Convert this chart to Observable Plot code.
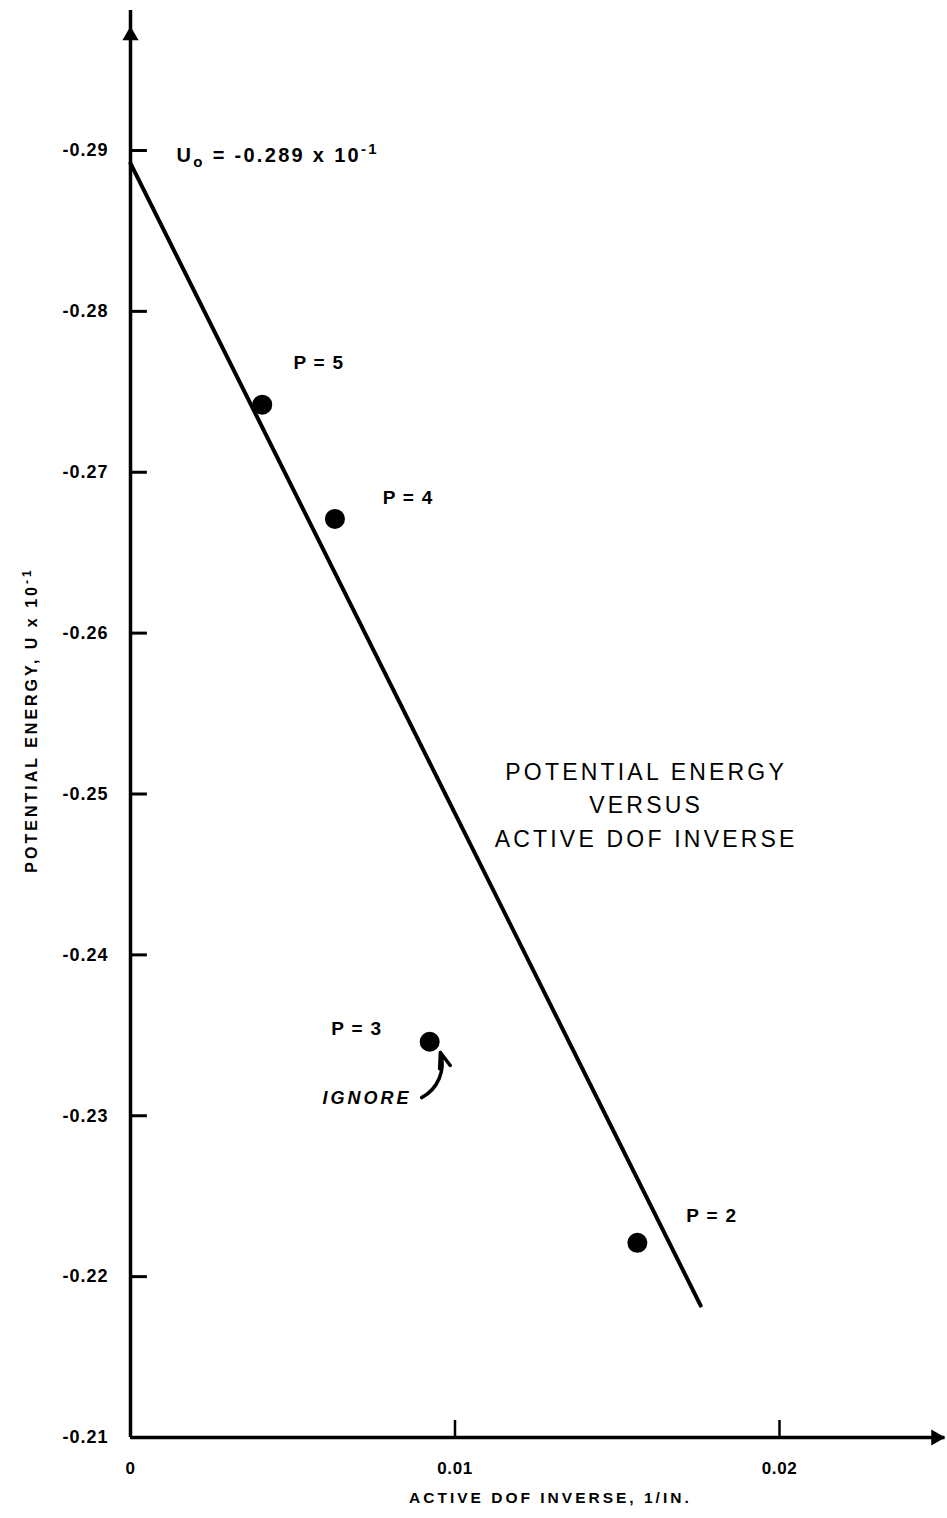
<!DOCTYPE html>
<html><head><meta charset="utf-8">
<script src="https://cdn.jsdelivr.net/npm/d3@7"></script>
<script src="https://cdn.jsdelivr.net/npm/@observablehq/plot@0.6"></script>
<style>body{margin:0;background:#fff} svg{display:block}</style>
</head><body><div id="chart"></div>
<script>
// ---- data ----
const pLabels = ["P = 5", "P = 4", "P = 3", "P = 2"];
const dofInverse = [0.00406, 0.00630, 0.00922, 0.01562];
const energy = [-0.2742, -0.2671, -0.2346, -0.2221];
const labelX = [0.00502, 0.00777, 0.00619, 0.01713];
const labelY = [-0.2768, -0.2684, -0.2354, -0.2238];
const fitX = [0, 0.01757];
const fitY = [-0.2892, -0.2182];
const xTicks = [0, 0.01, 0.02];
const xTickLabels = ["0", "0.01", "0.02"];
const yTicks = [-0.21, -0.22, -0.23, -0.24, -0.25, -0.26, -0.27, -0.28, -0.29];
const yTickLabels = ["-0.21", "-0.22", "-0.23", "-0.24", "-0.25", "-0.26", "-0.27", "-0.28", "-0.29"];
const xAxisEnd = 0.0251, xArrowAt = 0.02482;
const yAxisEnd = -0.2987, yArrowAt = -0.29715;
const u0Text = "Uo = -0.289 x 10-1";
const u0Pos = [0.00142, -0.2897];
const titleText = "POTENTIAL ENERGY\nVERSUS\nACTIVE DOF INVERSE";
const titlePos = [0.01589, -0.24947];
const ignoreText = "IGNORE";
const ignorePos = [0.00592, -0.23107];
const ignoreArrow = {x1: 0.00897, y1: -0.23113, x2: 0.00955, y2: -0.23393};
const xTitle = "ACTIVE DOF INVERSE, 1/IN.";
const xTitlePos = [0.01294, -0.21];
const yTitle = "POTENTIAL ENERGY, U x 10-1";
const yTitlePos = [0, -0.2546];

const points = pLabels.map((p, i) => ({p, x: dofInverse[i], y: energy[i], lx: labelX[i], ly: labelY[i]}));
const fit = fitX.map((x, i) => ({x, y: fitY[i]}));

const font = "Liberation Sans, Arial, Helvetica, sans-serif";
const spacing = []; // letter-spacing per text mark, in order
function T(data, opts, ls) { spacing.push(ls); return Plot.text(data, {fontFamily: font, fill: "black", ...opts}); }

const svg = Plot.plot({
  width: 947, height: 1518,
  marginLeft: 130, marginRight: 168, marginTop: 150, marginBottom: 81,
  x: {domain: [0, 0.02], axis: null},
  y: {domain: [-0.21, -0.29], axis: null},
  style: {background: "white", overflow: "visible"},
  marks: [
    // axes
    Plot.ruleX([0], {y1: -0.21, y2: yAxisEnd, stroke: "black", strokeWidth: 3.5}),
    Plot.ruleY([-0.21], {x1: 0, x2: xAxisEnd, stroke: "black", strokeWidth: 3.5}),
    Plot.dot([0], {x: 0, y: yArrowAt, symbol: "triangle", r: 6, fill: "black", stroke: null}),
    Plot.dot([0], {x: xArrowAt, y: -0.21, symbol: "triangle", r: 6, fill: "black", stroke: null, rotate: 90}),
    Plot.ruleY(yTicks.slice(1), {y: d => d, x1: 0, x2: 0.00052, stroke: "black", strokeWidth: 3}),
    Plot.ruleX(xTicks.slice(1), {x: d => d, y1: -0.21, y2: -0.21106, stroke: "black", strokeWidth: 2.5}),
    T(yTicks, {x: 0, y: d => d, text: (d, i) => yTickLabels[i], textAnchor: "end", dx: -22, fontSize: 18, fontWeight: "bold"}, 1),
    T(xTicks, {x: d => d, y: -0.21, text: (d, i) => xTickLabels[i], dy: 31, fontSize: 17, fontWeight: "bold"}, 0.6),
    T([xTitle], {x: xTitlePos[0], y: xTitlePos[1], text: d => d, dy: 61, fontSize: 15.5, fontWeight: "bold"}, 3),
    T([yTitle], {x: yTitlePos[0], y: yTitlePos[1], text: d => d, dx: -99, rotate: -90, fontSize: 16, fontWeight: "bold"}, 3),
    // fitted line and points
    Plot.line(fit, {x: "x", y: "y", stroke: "black", strokeWidth: 4}),
    Plot.dot(points, {x: "x", y: "y", r: 10, fill: "black", stroke: null}),
    T(points, {x: "lx", y: "ly", text: "p", textAnchor: "start", fontSize: 19, fontWeight: "bold"}, 1.3),
    // annotations
    T([u0Text], {x: u0Pos[0], y: u0Pos[1], text: d => d, textAnchor: "start", fontSize: 20, fontWeight: "bold"}, 2.3),
    T([titleText], {x: titlePos[0], y: titlePos[1], text: d => d, fontSize: 23, lineHeight: 1.45, fontWeight: "500"}, 3.2),
    T([ignoreText], {x: ignorePos[0], y: ignorePos[1], text: d => d, textAnchor: "start", fontSize: 18, fontStyle: "italic", fontWeight: "bold"}, 3),
    Plot.arrow([ignoreArrow], {x1: "x1", y1: "y1", x2: "x2", y2: "y2", bend: -40, stroke: "black", strokeWidth: 3.5, headLength: 12, headAngle: 40})
  ]
});

// letter spacing per text mark
const textGroups = svg.querySelectorAll('g[aria-label="text"]');
textGroups.forEach((g, i) => { if (spacing[i] != null) g.setAttribute("letter-spacing", spacing[i] + "px"); });

// superscripts / subscripts
function rich(txt, parts) {
  svg.querySelectorAll("text").forEach(el => {
    if (el.textContent !== txt) return;
    while (el.firstChild) el.removeChild(el.firstChild);
    parts.forEach(([t, dy, size]) => {
      const ts = document.createElementNS("http://www.w3.org/2000/svg", "tspan");
      ts.textContent = t;
      if (dy) ts.setAttribute("dy", dy);
      if (size) ts.setAttribute("font-size", size);
      el.appendChild(ts);
    });
  });
}
rich(u0Text, [["U"], ["o", 5, 15], [" = -0.289 x 10", -5], ["-1", -8, 15]]);
rich(yTitle, [["POTENTIAL ENERGY, U x 10"], ["-1", -6, 12]]);

document.getElementById("chart").appendChild(svg);
</script>
</body></html>
